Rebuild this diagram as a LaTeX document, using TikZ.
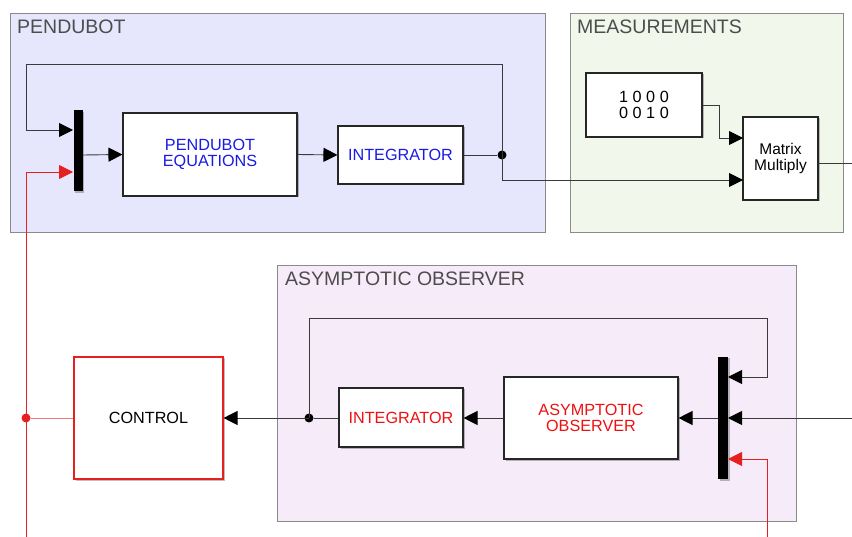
\documentclass[tikz,border=0pt]{standalone}
\usepackage{fontspec}
\setmainfont{Liberation Sans}
\usetikzlibrary{arrows.meta,shadows}
\definecolor{regA}{HTML}{E6E6FC}
\definecolor{regB}{HTML}{F1F7EA}
\definecolor{regC}{HTML}{F6EBF8}
\definecolor{regline}{HTML}{8A8A8A}
\definecolor{regtext}{HTML}{4D4D4D}
\definecolor{wire}{HTML}{3A3A3A}
\definecolor{bluetxt}{HTML}{1A1AE6}
\definecolor{redtxt}{HTML}{EE1111}
\definecolor{redwire}{HTML}{E62020}
\tikzset{
  region/.style={draw=regline, line width=0.9pt, inner sep=0pt, anchor=north west},
  regtitle/.style={anchor=north west, inner sep=0pt, text=regtext, font=\fontsize{19.5}{21}\selectfont},
  block/.style={draw=black!85, line width=1.1pt, fill=white, inner sep=0pt, align=center,
    font=\fontsize{16.2}{16.5}\selectfont,
    drop shadow={shadow xshift=1.5pt, shadow yshift=-1.5pt, opacity=0.25, fill=black}},
  muxbar/.style={fill=black, draw=none, inner sep=0pt,
    drop shadow={shadow xshift=1.5pt, shadow yshift=-1.5pt, opacity=0.25, fill=black}},
  conn/.style={draw=wire, line width=0.9pt},
  arr/.style={conn, -{Triangle[length=14pt,width=14pt,black]}},
  rconn/.style={draw=redwire, line width=0.9pt},
  rarr/.style={rconn, -{Triangle[length=14pt,width=14pt,redwire]}},
  jdot/.style={circle, fill=black, inner sep=0pt, minimum size=9pt},
  rdot/.style={circle, fill=redwire, inner sep=0pt, minimum size=9pt},
}
\begin{document}
\begin{tikzpicture}[x=1pt,y=-1pt]
\useasboundingbox (0,0) rectangle (852,537);
% regions
\node[region, fill=regA, minimum width=535pt, minimum height=219pt] (rpend) at (10,13) {};
\node[regtitle] (tpend) at (17,20) {PENDUBOT};
\node[region, fill=regB, minimum width=273pt, minimum height=219pt] (rmeas) at (570,13) {};
\node[regtitle] (tmeas) at (577,20) {MEASUREMENTS};
\node[region, fill=regC, minimum width=519pt, minimum height=256pt] (robs) at (277,265) {};
\node[regtitle] (tobs) at (285,272) {ASYMPTOTIC OBSERVER};

% top blocks
\node[muxbar, minimum width=9pt, minimum height=81pt] (mux1) at (78,151) {};
\node[block, text=bluetxt, minimum width=174pt, minimum height=83pt] (peq) at (210,154.5) {PENDUBOT\\EQUATIONS};
\node[block, text=bluetxt, minimum width=125pt, minimum height=58pt] (int1) at (400.5,155) {INTEGRATOR};
\node[jdot] (d1) at (502,155) {};
\node[block, minimum width=116pt, minimum height=64pt] (cst) at (644,105) {1 0 0 0\\0 0 1 0};
\node[block, font=\fontsize{15.5}{16.5}\selectfont, minimum width=75pt, minimum height=83pt] (mm) at (780.5,158.5) {Matrix\\Multiply};

% bottom blocks
\node[muxbar, minimum width=10pt, minimum height=122pt] (mux2) at (723,418) {};
\node[block, text=redtxt, minimum width=174pt, minimum height=82pt] (aobs) at (591,418) {ASYMPTOTIC\\OBSERVER};
\node[block, text=redtxt, minimum width=124pt, minimum height=59pt] (int2) at (401,417.5) {INTEGRATOR};
\node[jdot] (d2) at (309,418) {};
\node[block, draw=redwire, minimum width=149pt, minimum height=122pt] (ctrl) at (148.5,418) {CONTROL};
\node[rdot] (d3) at (26,418) {};

% coordinates for free ends / corners
\coordinate (m1a) at (73,130);
\coordinate (m1b) at (73,172);
\coordinate (m1o) at (83,155);
\coordinate (fb1) at (26,64);
\coordinate (rbot1) at (26,537);
\coordinate (mmb) at (743,180);
\coordinate (mma) at (743,138);
\coordinate (cstk) at (719,105);
\coordinate (mmo) at (818,163);
\coordinate (outR) at (852,163);
\coordinate (m2a) at (728,377);
\coordinate (m2b) at (728,418);
\coordinate (m2c) at (728,459);
\coordinate (inR) at (852,418);
\coordinate (fb2) at (767,318);
\coordinate (rbot2) at (767,537);

% top wiring
\draw[arr] (m1o) -- (peq.west);
\draw[arr] (peq.east) -- (int1.west);
\draw[conn] (int1.east) -- (d1);
\draw[arr] (d1.center) -- (d1.center |- fb1) -| (fb1 |- m1a) -- (m1a);
\draw[arr] (d1.center) |- (mmb);
\draw[conn] (cst.east |- cstk) -- (cstk);
\draw[arr] (cstk) |- (mma);
\draw[conn] (mmo) -- (outR);
\draw[rarr] (rbot1) -- (rbot1 |- m1b) -- (m1b);
\draw[draw=redwire!60, line width=0.9pt] (ctrl.west) -- (d3);

% bottom wiring
\draw[arr] (inR) -- (m2b);
\draw[arr] (mux2.west) -- (aobs.east);
\draw[arr] (aobs.west) -- (int2.east |- aobs.west);
\draw[conn] (int2.west |- d2) -- (d2);
\draw[arr] (d2.center) -- (ctrl.east);
\draw[arr] (d2.center) -- (d2.center |- fb2) -| (fb2 |- m2a) -- (m2a);
\draw[rarr] (rbot2) -- (rbot2 |- m2c) -- (m2c);
\end{tikzpicture}
\end{document}
